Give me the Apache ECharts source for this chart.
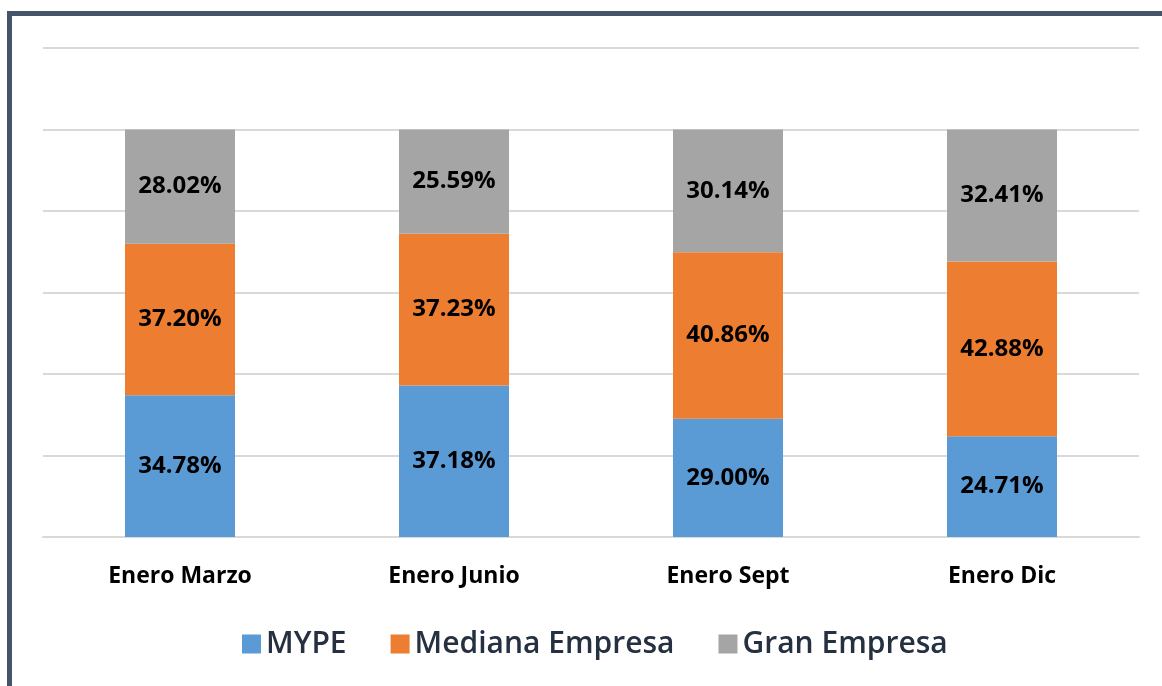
<!DOCTYPE html>
<html><head><meta charset="utf-8">
<script src="https://cdn.jsdelivr.net/npm/echarts@6/dist/echarts.min.js"></script>
<style>html,body{margin:0;padding:0;background:#fff;}#c{width:1162px;height:686px;}</style>
</head><body><div id="c"></div>
<script>
const categories = ['Enero Marzo', 'Enero Junio', 'Enero Sept', 'Enero Dic'];
const mype = [34.78, 37.18, 29.00, 24.71];
const mediana = [37.20, 37.23, 40.86, 42.88];
const gran = [28.02, 25.59, 30.14, 32.41];
const seriesNames = ['MYPE', 'Mediana Empresa', 'Gran Empresa'];
const colors = ['#5b9bd5', '#ed7d31', '#a5a5a5'];

const chart = echarts.init(document.getElementById('c'), null, {renderer: 'canvas'});
const FONT = '"Open Sans", sans-serif';
function mk(name, data, color) {
  return {
    name, type: 'bar', stack: 'total', data, barWidth: 110,
    itemStyle: {color},
    label: {show: true, position: 'inside', color: '#000', fontFamily: FONT, fontWeight: 'bold', fontSize: 24,
      formatter: p => p.value.toFixed(2) + '%'},
    emphasis: {disabled: true}
  };
}
chart.setOption({
  animation: false,
  backgroundColor: '#fff',
  graphic: [{type: 'rect', shape: {x: 9.5, y: 13.5, width: 1200, height: 800},
    style: {fill: 'none', stroke: '#44546a', lineWidth: 5}, z: 100}],
  grid: {left: 43, right: 23, top: 48, bottom: 149},
  xAxis: {type: 'category', data: categories,
    axisLine: {show: true, lineStyle: {color: '#d9d9d9', width: 2}},
    axisTick: {show: false},
    axisLabel: {color: '#000', fontFamily: FONT, fontWeight: 'bold', fontSize: 23, margin: 28}},
  yAxis: {type: 'value', min: 0, max: 120, interval: 20,
    axisLabel: {show: false}, axisLine: {show: false}, axisTick: {show: false},
    splitLine: {lineStyle: {color: '#d9d9d9', width: 2}}},
  legend: {top: 624, left: 237, itemWidth: 19, itemHeight: 19, itemGap: 44,
    icon: 'rect',
    textStyle: {color: '#253040', fontFamily: FONT, fontSize: 30, fontWeight: 600},
    data: seriesNames},
  series: [mk(seriesNames[0], mype, colors[0]), mk(seriesNames[1], mediana, colors[1]), mk(seriesNames[2], gran, colors[2])]
});
</script></body></html>
